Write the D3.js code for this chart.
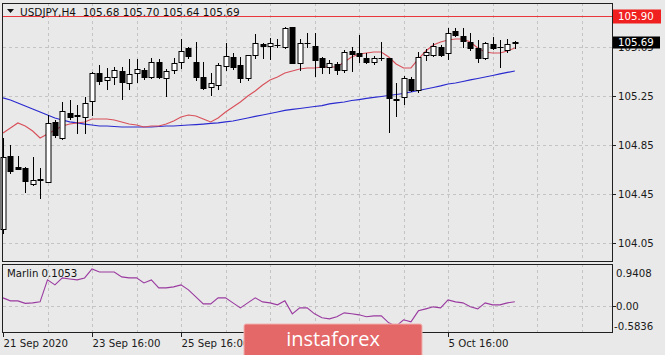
<!DOCTYPE html>
<html><head><meta charset="utf-8">
<script src="https://cdn.jsdelivr.net/npm/d3@7"></script>
<style>body{margin:0;background:#e9e9e9;} svg{display:block;}</style>
</head><body><svg id="c" width="665" height="355"></svg>
<script>
const symbolName = "USDJPY,H4";
const headerOHLC = ["105.68", "105.70", "105.64", "105.69"];
const openP = [104.164,104.760,104.670,104.662,104.532,104.572,104.548,105.038,104.907,105.111,
105.087,105.079,105.209,105.438,105.381,105.405,105.454,105.356,105.438,105.462,
105.405,105.528,105.397,105.462,105.528,105.642,105.528,105.405,105.323,105.340,
105.495,105.568,105.503,105.397,105.585,105.674,105.658,105.666,105.650,105.813,
105.519,105.679,105.658,105.560,105.487,105.511,105.462,105.617,105.601,105.560,
105.528,105.560,105.560,105.226,105.242,105.389,105.299,105.585,105.585,105.650,
105.601,105.781,105.740,105.691,105.642,105.560,105.674,105.646,105.626,105.68];
const highP = [104.907,104.850,104.760,104.670,104.752,104.662,105.095,105.054,105.201,105.217,
105.177,105.242,105.446,105.503,105.479,105.487,105.487,105.552,105.552,105.479,
105.560,105.552,105.470,105.560,105.715,105.650,105.691,105.528,105.438,105.519,
105.683,105.601,105.568,105.585,105.756,105.683,105.723,105.715,105.813,105.813,
105.715,105.764,105.764,105.568,105.544,105.528,105.626,105.650,105.748,105.601,
105.577,105.691,105.560,105.356,105.413,105.405,105.609,105.634,105.683,105.666,
105.805,105.805,105.805,105.764,105.707,105.691,105.732,105.707,105.715,105.70];
const lowP = [104.132,104.621,104.654,104.466,104.523,104.417,104.548,104.915,104.899,105.062,
104.948,104.948,105.095,105.348,105.307,105.348,105.226,105.307,105.364,105.389,
105.397,105.397,105.250,105.438,105.479,105.560,105.381,105.307,105.258,105.307,
105.462,105.470,105.364,105.381,105.560,105.560,105.552,105.650,105.642,105.519,
105.462,105.650,105.413,105.438,105.438,105.430,105.446,105.454,105.528,105.519,
105.511,105.544,104.956,105.087,105.185,105.291,105.283,105.544,105.577,105.577,
105.552,105.740,105.650,105.626,105.528,105.552,105.634,105.487,105.609,105.64];
const closeP = [104.752,104.638,104.654,104.556,104.564,104.564,105.030,104.932,105.128,105.079,
105.091,105.193,105.438,105.372,105.405,105.462,105.364,105.430,105.470,105.405,
105.528,105.405,105.454,105.519,105.617,105.577,105.405,105.315,105.356,105.503,
105.577,105.487,105.397,105.585,105.683,105.658,105.683,105.670,105.805,105.519,
105.683,105.683,105.544,105.487,105.519,105.462,105.609,105.593,105.577,105.528,
105.560,105.556,105.234,105.217,105.397,105.299,105.568,105.609,105.658,105.585,
105.764,105.748,105.699,105.642,105.560,105.683,105.642,105.650,105.674,105.69];
const maFast = [104.948,104.989,105.030,105.005,104.964,104.907,104.940,104.972,105.005,105.021,
105.030,105.038,105.062,105.062,105.062,105.054,105.038,105.021,105.013,104.997,
105.005,105.005,105.021,105.046,105.079,105.095,105.087,105.062,105.038,105.070,
105.119,105.160,105.201,105.250,105.291,105.340,105.381,105.405,105.438,105.454,
105.470,105.479,105.479,105.487,105.487,105.487,105.528,105.568,105.593,105.601,
105.609,105.609,105.568,105.511,105.479,105.479,105.552,105.617,105.666,105.691,
105.707,105.715,105.715,105.691,105.642,105.609,105.601,105.601,105.617,105.642];
const maSlow = [105.234,105.217,105.193,105.168,105.144,105.119,105.095,105.070,105.054,105.038,
105.030,105.021,105.013,105.005,105.005,105.001,104.997,104.997,104.997,104.997,
104.997,105.001,105.005,105.005,105.009,105.013,105.017,105.021,105.026,105.030,
105.038,105.046,105.058,105.070,105.083,105.095,105.107,105.119,105.132,105.140,
105.148,105.156,105.164,105.172,105.185,105.193,105.201,105.213,105.221,105.230,
105.238,105.246,105.254,105.262,105.270,105.283,105.295,105.307,105.319,105.332,
105.348,105.356,105.368,105.381,105.393,105.405,105.417,105.430,105.442,105.454];
const marlin = [0.193,0.125,0.125,0.068,0.079,0.102,0.602,0.488,0.647,0.624,
0.602,0.647,0.851,0.783,0.783,0.783,0.670,0.647,0.647,0.533,
0.602,0.420,0.420,0.443,0.488,0.375,0.216,0.057,0.057,0.193,
0.193,0.079,-0.034,0.079,0.193,0.102,0.079,0.034,0.125,-0.170,
-0.034,-0.034,-0.170,-0.261,-0.284,-0.238,-0.148,-0.170,-0.193,-0.238,
-0.216,-0.216,-0.375,-0.450,-0.306,-0.352,-0.102,-0.057,-0.011,-0.034,
0.148,0.102,0.079,-0.011,-0.057,0.079,0.034,0.034,0.079,0.1053];
const marlinLabel = "Marlin 0.1053";
const priceTicks = [105.65, 105.25, 104.85, 104.45, 104.05];
const levelLine = 105.90;
const lastPrice = 105.69;
const marlinTicks = [0.9408, 0.00, -0.5836];
const timeTickIdx = [0, 12, 24, 36, 48, 60];
const timeTickLabels = ["21 Sep 2020", "23 Sep 16:00", "25 Sep 16:00", "29 Sep 16:00", "1 Oct 16:00", "5 Oct 16:00"];
const gridIdx = d3.range(0, 82, 6);

const svg = d3.select("#c");
const FONT = "DejaVu Sans, Tahoma, sans-serif";
const L = 3, R = 612, mainTop = 3, mainBot = 261, indTop = 264, indBot = 332;

const x = d3.scaleLinear().domain([0, 82.1]).range([L, R]);
const y = d3.scaleLinear().domain([103.903, 106.009]).range([mainBot, mainTop]);
const yi = d3.scaleLinear().domain([-0.5836, 0.9408]).range([indBot, indTop + 1]);
const px = v => Math.round(v) + 0.5;

svg.append("rect").attr("width", 665).attr("height", 355).attr("fill", "#e9e9e9");

// grids
const grid = svg.append("g").attr("stroke", "#c4c4c4").attr("stroke-dasharray", "3,3").attr("stroke-width", 1);
priceTicks.forEach(t => grid.append("line").attr("x1", L).attr("x2", R).attr("y1", px(y(t))).attr("y2", px(y(t))));
grid.append("line").attr("x1", L).attr("x2", R).attr("y1", px(yi(0))).attr("y2", px(yi(0)));
gridIdx.slice(1).forEach(i => {
  grid.append("line").attr("x1", px(x(i))).attr("x2", px(x(i))).attr("y1", mainTop).attr("y2", mainBot);
  grid.append("line").attr("x1", px(x(i))).attr("x2", px(x(i))).attr("y1", indTop).attr("y2", indBot);
});

// level line
svg.append("line").attr("x1", L).attr("x2", R + 2).attr("y1", px(y(levelLine))).attr("y2", px(y(levelLine)))
  .attr("stroke", "#e8383d").attr("stroke-width", 1);

// moving averages
const lineGen = arr => d3.line().x((d, i) => x(i)).y(d => y(d))(arr);
svg.append("path").attr("d", lineGen(maSlow)).attr("fill", "none").attr("stroke", "#2a2ad0").attr("stroke-width", 1.2);
svg.append("path").attr("d", lineGen(maFast)).attr("fill", "none").attr("stroke", "#d8505a").attr("stroke-width", 1.1);

// candles
const cg = svg.append("g");
openP.forEach((o, i) => {
  const c = closeP[i], h = highP[i], l = lowP[i];
  const cx = px(x(i));
  const bull = c >= o;
  const yTop = Math.round(y(Math.max(o, c))), yBot = Math.round(y(Math.min(o, c)));
  cg.append("line").attr("x1", cx).attr("x2", cx).attr("y1", Math.round(y(h))).attr("y2", Math.round(y(l)) + 1)
    .attr("stroke", "#000").attr("stroke-width", 1);
  if (yBot - yTop < 1) {
    cg.append("line").attr("x1", cx - 3).attr("x2", cx + 3).attr("y1", yTop + 0.5).attr("y2", yTop + 0.5).attr("stroke", "#000");
  } else {
    cg.append("rect").attr("x", cx - 2.5).attr("y", yTop + 0.5).attr("width", 5).attr("height", yBot - yTop)
      .attr("fill", bull ? "#fff" : "#000").attr("stroke", "#000").attr("stroke-width", 1);
  }
});

// marlin line
svg.append("path").attr("d", d3.line().x((d, i) => x(i)).y(d => yi(d))(marlin))
  .attr("fill", "none").attr("stroke", "#9a3aa0").attr("stroke-width", 1.1);

// frames
const fr = svg.append("g").attr("fill", "none").attr("stroke", "#202020").attr("stroke-width", 1);
fr.append("rect").attr("x", L - 0.5).attr("y", mainTop + 0.5).attr("width", R - L + 1).attr("height", mainBot - mainTop);
fr.append("rect").attr("x", L - 0.5).attr("y", indTop + 0.5).attr("width", R - L + 1).attr("height", indBot - indTop);

// right axis ticks + labels
const ax = svg.append("g").attr("font-family", FONT).attr("font-size", "10.2px").attr("fill", "#1a1a1a");
priceTicks.forEach(t => {
  const yy = px(y(t));
  ax.append("line").attr("x1", R).attr("x2", R + 4).attr("y1", yy).attr("y2", yy).attr("stroke", "#202020");
  ax.append("text").attr("x", R + 6).attr("y", yy).attr("dy", "0.36em").text(t.toFixed(2));
});
// marlin labels
ax.append("text").attr("x", R + 4).attr("y", indTop + 9).attr("dy", "0.36em").text(marlinTicks[0].toFixed(4));
ax.append("line").attr("x1", R).attr("x2", R + 4).attr("y1", px(yi(0))).attr("y2", px(yi(0))).attr("stroke", "#202020");
ax.append("text").attr("x", R + 4).attr("y", px(yi(0))).attr("dy", "0.36em").text(marlinTicks[1].toFixed(2));
ax.append("text").attr("x", R + 2).attr("y", indBot - 6).attr("dy", "0.36em").text(marlinTicks[2].toFixed(4));

// price boxes
const lvY = px(y(levelLine));
svg.append("rect").attr("x", R + 1).attr("y", lvY - 7).attr("width", 48).attr("height", 14).attr("fill", "#f02020");
svg.append("text").attr("x", R + 6).attr("y", lvY).attr("dy", "0.36em").attr("font-family", FONT).attr("font-size", "10.2px")
  .attr("fill", "#fff").text(levelLine.toFixed(2));
const lpY = px(y(lastPrice));
svg.append("rect").attr("x", R + 1).attr("y", lpY - 6).attr("width", 47).attr("height", 12).attr("fill", "#000");
svg.append("text").attr("x", R + 6).attr("y", lpY).attr("dy", "0.36em").attr("font-family", FONT).attr("font-size", "10.2px")
  .attr("fill", "#fff").text(lastPrice.toFixed(2));

// time axis
const ta = svg.append("g").attr("font-family", FONT).attr("font-size", "10.2px").attr("fill", "#1a1a1a");
timeTickIdx.forEach((i, k) => {
  const xx = px(x(i));
  ta.append("line").attr("x1", xx).attr("x2", xx).attr("y1", indBot).attr("y2", indBot + 5).attr("stroke", "#202020");
  ta.append("text").attr("x", xx).attr("y", 347).text(timeTickLabels[k]);
});

// header
svg.append("path").attr("d", "M7,9 L14,9 L10.5,13 Z").attr("fill", "#111");
svg.append("text").attr("x", 20).attr("y", 15.5).attr("font-family", FONT).attr("font-size", "10.5px").attr("fill", "#111")
  .attr("xml:space", "preserve").text(symbolName + "  " + headerOHLC.join(" "));
svg.append("text").attr("x", 7).attr("y", 277).attr("font-family", FONT).attr("font-size", "10.2px").attr("fill", "#111")
  .text(marlinLabel);

// watermark
svg.append("rect").attr("x", 244).attr("y", 324).attr("width", 178).attr("height", 33).attr("rx", 2)
  .attr("fill", "#e46868").attr("stroke", "#f2b0b0").attr("stroke-width", 1);
svg.append("text").attr("x", 333).attr("y", 346).attr("text-anchor", "middle").attr("font-family", "Open Sans, sans-serif")
  .attr("font-size", "20px").attr("fill", "#fff").text("instaforex");
</script></body></html>
